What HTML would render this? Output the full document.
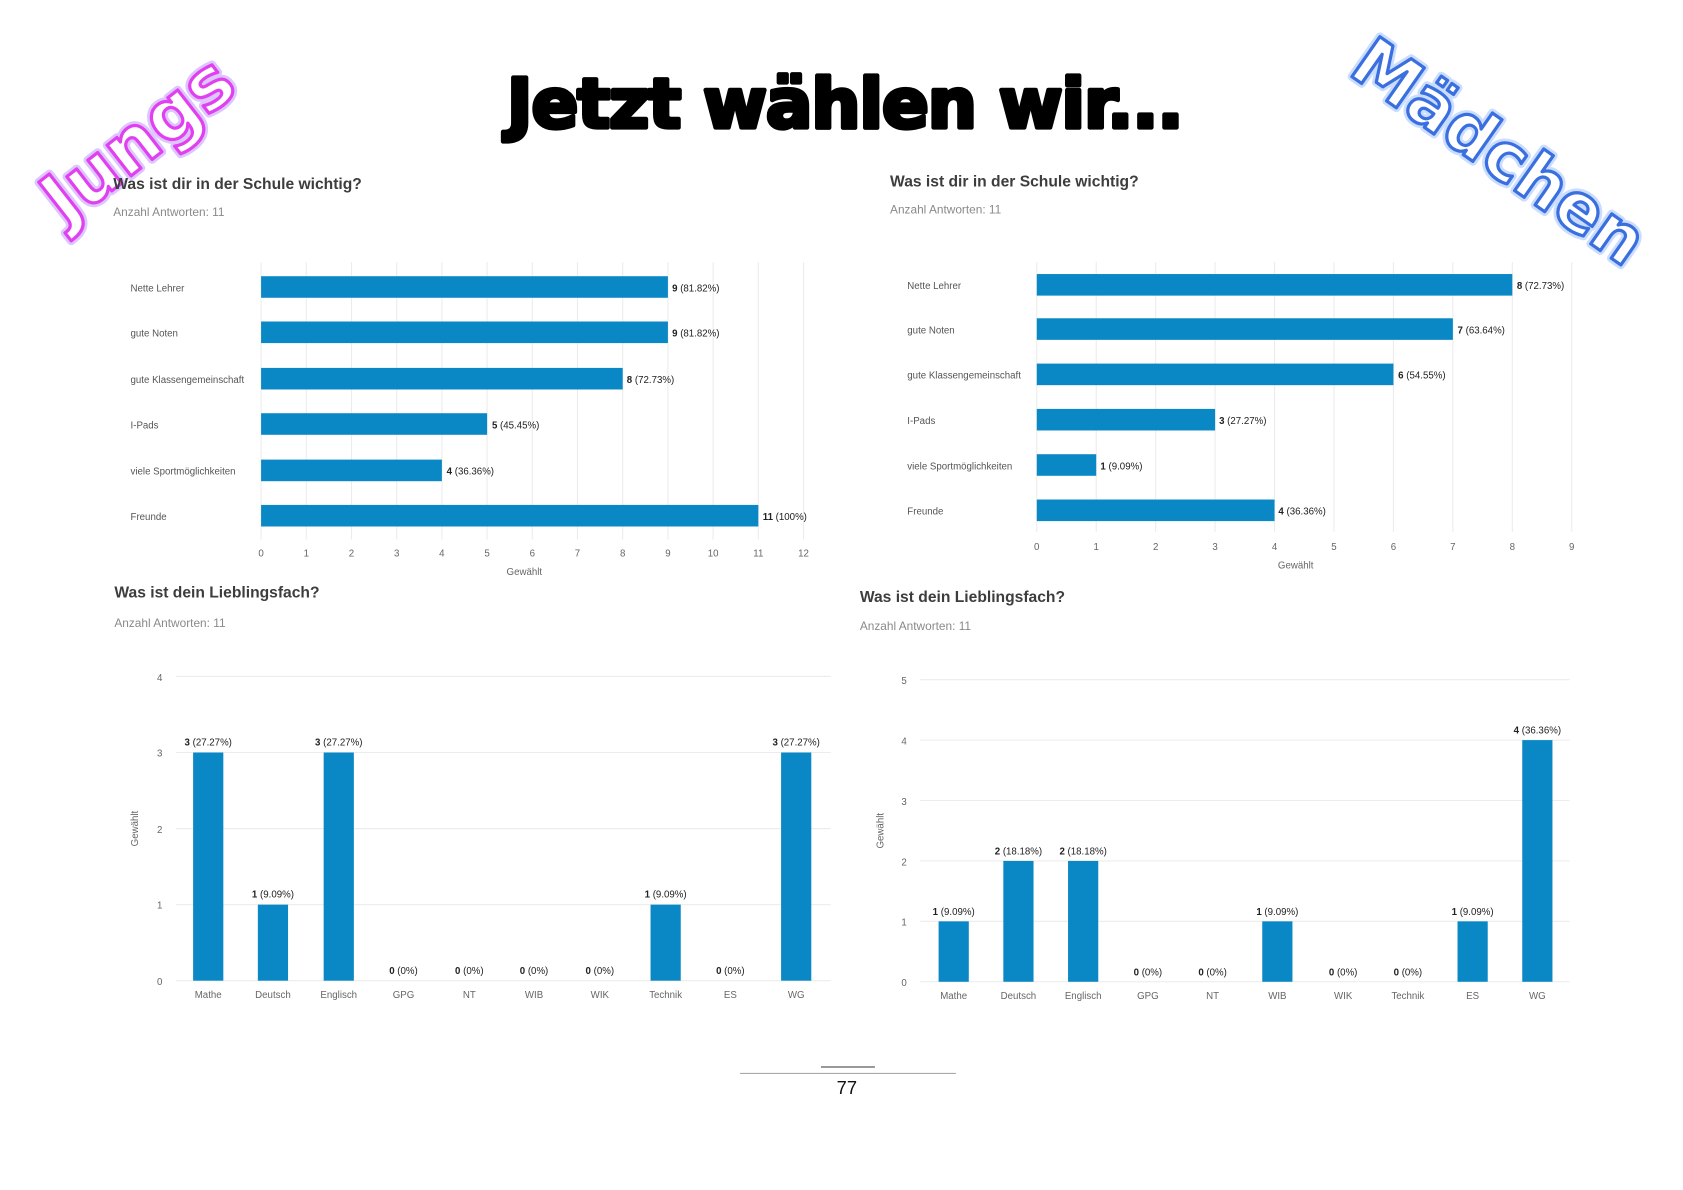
<!DOCTYPE html>
<html><head><meta charset="utf-8"><style>
html,body{margin:0;padding:0;background:#fff;}
svg{display:block;}
text{font-family:"Liberation Sans","DejaVu Sans",sans-serif;}
.t{font-size:14.5px;font-weight:bold;fill:#3d3d3d;}
.s{font-size:11px;fill:#8a8a8a;}
.l{font-size:9px;fill:#555;}
.k{font-size:9px;fill:#666;}
.v{font-size:9px;fill:#222;}
.g{stroke:#ececec;stroke-width:1;}
.b{fill:#0a88c6;}
</style></head><body>
<svg width="1683" height="1190" viewBox="0 0 1560 1103" xmlns="http://www.w3.org/2000/svg">
<rect width="1560" height="1103" fill="#fff"/>
<text x="783" y="118" text-anchor="middle" style="font-family:'DejaVu Sans',sans-serif;font-weight:bold;font-size:64px;letter-spacing:-1px" fill="#000" stroke="#000" stroke-width="4" stroke-linejoin="round">Jetzt wählen wir...</text>
<g transform="translate(128,130) rotate(-38)">
<text x="0" y="22" text-anchor="middle" style="font-family:'DejaVu Sans',sans-serif;font-weight:bold;font-size:66px" fill="#fff" stroke="#c8a0ff" stroke-width="8" stroke-linejoin="round" opacity="0.6">Jungs</text>
<text x="0" y="22" text-anchor="middle" style="font-family:'DejaVu Sans',sans-serif;font-weight:bold;font-size:66px" fill="#fff" stroke="#e040f0" stroke-width="3" stroke-linejoin="round">Jungs</text>
</g>
<g transform="translate(1390,140) rotate(35)">
<text x="0" y="22" text-anchor="middle" style="font-family:'DejaVu Sans',sans-serif;font-weight:bold;font-size:62px" fill="#fff" stroke="#a8c8ff" stroke-width="8" stroke-linejoin="round" opacity="0.6">Mädchen</text>
<text x="0" y="22" text-anchor="middle" style="font-family:'DejaVu Sans',sans-serif;font-weight:bold;font-size:62px" fill="#fff" stroke="#3a6fe0" stroke-width="3" stroke-linejoin="round">Mädchen</text>
</g>

<text class="t" x="105" y="175">Was ist dir in der Schule wichtig?</text>
<text class="s" x="105" y="200">Anzahl Antworten: 11</text>
<g>
<line class="g" x1="242" y1="243" x2="242" y2="500"/><line class="g" x1="283.9" y1="243" x2="283.9" y2="500"/><line class="g" x1="325.8" y1="243" x2="325.8" y2="500"/><line class="g" x1="367.7" y1="243" x2="367.7" y2="500"/><line class="g" x1="409.6" y1="243" x2="409.6" y2="500"/><line class="g" x1="451.5" y1="243" x2="451.5" y2="500"/><line class="g" x1="493.4" y1="243" x2="493.4" y2="500"/><line class="g" x1="535.3" y1="243" x2="535.3" y2="500"/><line class="g" x1="577.2" y1="243" x2="577.2" y2="500"/><line class="g" x1="619.1" y1="243" x2="619.1" y2="500"/><line class="g" x1="661" y1="243" x2="661" y2="500"/><line class="g" x1="702.9" y1="243" x2="702.9" y2="500"/><line class="g" x1="744.8" y1="243" x2="744.8" y2="500"/>
</g>
<g class="k" text-anchor="middle">
<text x="242" y="516">0</text><text x="283.9" y="516">1</text><text x="325.8" y="516">2</text><text x="367.7" y="516">3</text><text x="409.6" y="516">4</text><text x="451.5" y="516">5</text><text x="493.4" y="516">6</text><text x="535.3" y="516">7</text><text x="577.2" y="516">8</text><text x="619.1" y="516">9</text><text x="661" y="516">10</text><text x="702.9" y="516">11</text><text x="744.8" y="516">12</text>
<text x="486" y="533">Gewählt</text>
</g>
<g class="l">
<text x="121" y="270">Nette Lehrer</text><text x="121" y="312">gute Noten</text><text x="121" y="355">gute Klassengemeinschaft</text><text x="121" y="397">I-Pads</text><text x="121" y="440">viele Sportmöglichkeiten</text><text x="121" y="482">Freunde</text>
</g>
<rect class="b" x="242" y="256" width="377.1" height="20"/>
<rect class="b" x="242" y="298" width="377.1" height="20"/>
<rect class="b" x="242" y="341" width="335.2" height="20"/>
<rect class="b" x="242" y="383" width="209.5" height="20"/>
<rect class="b" x="242" y="426" width="167.6" height="20"/>
<rect class="b" x="242" y="468" width="460.9" height="20"/>
<g class="v">
<text x="623" y="270"><tspan font-weight="bold">9</tspan> (81.82%)</text>
<text x="623" y="312"><tspan font-weight="bold">9</tspan> (81.82%)</text>
<text x="581" y="355"><tspan font-weight="bold">8</tspan> (72.73%)</text>
<text x="456" y="397"><tspan font-weight="bold">5</tspan> (45.45%)</text>
<text x="414" y="440"><tspan font-weight="bold">4</tspan> (36.36%)</text>
<text x="707" y="482"><tspan font-weight="bold">11</tspan> (100%)</text>
</g>

<text class="t" x="825" y="173">Was ist dir in der Schule wichtig?</text>
<text class="s" x="825" y="198">Anzahl Antworten: 11</text>
<g>
<line class="g" x1="961" y1="243" x2="961" y2="493"/><line class="g" x1="1016.1" y1="243" x2="1016.1" y2="493"/><line class="g" x1="1071.2" y1="243" x2="1071.2" y2="493"/><line class="g" x1="1126.3" y1="243" x2="1126.3" y2="493"/><line class="g" x1="1181.4" y1="243" x2="1181.4" y2="493"/><line class="g" x1="1236.5" y1="243" x2="1236.5" y2="493"/><line class="g" x1="1291.6" y1="243" x2="1291.6" y2="493"/><line class="g" x1="1346.7" y1="243" x2="1346.7" y2="493"/><line class="g" x1="1401.8" y1="243" x2="1401.8" y2="493"/><line class="g" x1="1456.9" y1="243" x2="1456.9" y2="493"/>
</g>
<g class="k" text-anchor="middle">
<text x="961" y="510">0</text><text x="1016.1" y="510">1</text><text x="1071.2" y="510">2</text><text x="1126.3" y="510">3</text><text x="1181.4" y="510">4</text><text x="1236.5" y="510">5</text><text x="1291.6" y="510">6</text><text x="1346.7" y="510">7</text><text x="1401.8" y="510">8</text><text x="1456.9" y="510">9</text>
<text x="1201" y="527">Gewählt</text>
</g>
<g class="l">
<text x="841" y="268">Nette Lehrer</text><text x="841" y="309">gute Noten</text><text x="841" y="351">gute Klassengemeinschaft</text><text x="841" y="393">I-Pads</text><text x="841" y="435">viele Sportmöglichkeiten</text><text x="841" y="477">Freunde</text>
</g>
<rect class="b" x="961" y="254" width="440.8" height="20"/>
<rect class="b" x="961" y="295" width="385.7" height="20"/>
<rect class="b" x="961" y="337" width="330.6" height="20"/>
<rect class="b" x="961" y="379" width="165.3" height="20"/>
<rect class="b" x="961" y="421" width="55.1" height="20"/>
<rect class="b" x="961" y="463" width="220.4" height="20"/>
<g class="v">
<text x="1406" y="268"><tspan font-weight="bold">8</tspan> (72.73%)</text>
<text x="1351" y="309"><tspan font-weight="bold">7</tspan> (63.64%)</text>
<text x="1296" y="351"><tspan font-weight="bold">6</tspan> (54.55%)</text>
<text x="1130" y="393"><tspan font-weight="bold">3</tspan> (27.27%)</text>
<text x="1020" y="435"><tspan font-weight="bold">1</tspan> (9.09%)</text>
<text x="1185" y="477"><tspan font-weight="bold">4</tspan> (36.36%)</text>
</g>

<text class="t" x="106" y="554">Was ist dein Lieblingsfach?</text>
<text class="s" x="106" y="581">Anzahl Antworten: 11</text>
<g>
<line class="g" x1="163" y1="627" x2="770" y2="627" stroke-width="1.5"/><line class="g" x1="163" y1="697.5" x2="770" y2="697.5"/><line class="g" x1="163" y1="768" x2="770" y2="768"/><line class="g" x1="163" y1="838.5" x2="770" y2="838.5"/><line class="g" x1="163" y1="909" x2="770" y2="909"/>
</g>
<g class="k" text-anchor="middle">
<text x="148" y="631">4</text><text x="148" y="701">3</text><text x="148" y="772">2</text><text x="148" y="842">1</text><text x="148" y="913">0</text>
<text x="193" y="925">Mathe</text><text x="253" y="925">Deutsch</text><text x="314" y="925">Englisch</text><text x="374" y="925">GPG</text><text x="435" y="925">NT</text><text x="495" y="925">WIB</text><text x="556" y="925">WIK</text><text x="617" y="925">Technik</text><text x="677" y="925">ES</text><text x="738" y="925">WG</text>
<text transform="translate(128,768) rotate(-90)" text-anchor="middle">Gewählt</text>
</g>
<rect class="b" x="179" y="697.5" width="28" height="211.5"/>
<rect class="b" x="239" y="838.5" width="28" height="70.5"/>
<rect class="b" x="300" y="697.5" width="28" height="211.5"/>
<rect class="b" x="603" y="838.5" width="28" height="70.5"/>
<rect class="b" x="724" y="697.5" width="28" height="211.5"/>
<g class="v" text-anchor="middle">
<text x="193" y="691"><tspan font-weight="bold">3</tspan> (27.27%)</text>
<text x="253" y="832"><tspan font-weight="bold">1</tspan> (9.09%)</text>
<text x="314" y="691"><tspan font-weight="bold">3</tspan> (27.27%)</text>
<text x="374" y="903"><tspan font-weight="bold">0</tspan> (0%)</text>
<text x="435" y="903"><tspan font-weight="bold">0</tspan> (0%)</text>
<text x="495" y="903"><tspan font-weight="bold">0</tspan> (0%)</text>
<text x="556" y="903"><tspan font-weight="bold">0</tspan> (0%)</text>
<text x="617" y="832"><tspan font-weight="bold">1</tspan> (9.09%)</text>
<text x="677" y="903"><tspan font-weight="bold">0</tspan> (0%)</text>
<text x="738" y="691"><tspan font-weight="bold">3</tspan> (27.27%)</text>
</g>

<text class="t" x="797" y="558">Was ist dein Lieblingsfach?</text>
<text class="s" x="797" y="584">Anzahl Antworten: 11</text>
<g>
<line class="g" x1="853" y1="630" x2="1455" y2="630" stroke-width="1.5"/><line class="g" x1="853" y1="686" x2="1455" y2="686"/><line class="g" x1="853" y1="742" x2="1455" y2="742"/><line class="g" x1="853" y1="798" x2="1455" y2="798"/><line class="g" x1="853" y1="854" x2="1455" y2="854"/><line class="g" x1="853" y1="910" x2="1455" y2="910"/>
</g>
<g class="k" text-anchor="middle">
<text x="838" y="634">5</text><text x="838" y="690">4</text><text x="838" y="746">3</text><text x="838" y="802">2</text><text x="838" y="858">1</text><text x="838" y="914">0</text>
<text x="884" y="926">Mathe</text><text x="944" y="926">Deutsch</text><text x="1004" y="926">Englisch</text><text x="1064" y="926">GPG</text><text x="1124" y="926">NT</text><text x="1184" y="926">WIB</text><text x="1245" y="926">WIK</text><text x="1305" y="926">Technik</text><text x="1365" y="926">ES</text><text x="1425" y="926">WG</text>
<text transform="translate(819,770) rotate(-90)" text-anchor="middle">Gewählt</text>
</g>
<rect class="b" x="870" y="854" width="28" height="56"/>
<rect class="b" x="930" y="798" width="28" height="112"/>
<rect class="b" x="990" y="798" width="28" height="112"/>
<rect class="b" x="1170" y="854" width="28" height="56"/>
<rect class="b" x="1351" y="854" width="28" height="56"/>
<rect class="b" x="1411" y="686" width="28" height="224"/>
<g class="v" text-anchor="middle">
<text x="884" y="848"><tspan font-weight="bold">1</tspan> (9.09%)</text>
<text x="944" y="792"><tspan font-weight="bold">2</tspan> (18.18%)</text>
<text x="1004" y="792"><tspan font-weight="bold">2</tspan> (18.18%)</text>
<text x="1064" y="904"><tspan font-weight="bold">0</tspan> (0%)</text>
<text x="1124" y="904"><tspan font-weight="bold">0</tspan> (0%)</text>
<text x="1184" y="848"><tspan font-weight="bold">1</tspan> (9.09%)</text>
<text x="1245" y="904"><tspan font-weight="bold">0</tspan> (0%)</text>
<text x="1305" y="904"><tspan font-weight="bold">0</tspan> (0%)</text>
<text x="1365" y="848"><tspan font-weight="bold">1</tspan> (9.09%)</text>
<text x="1425" y="680"><tspan font-weight="bold">4</tspan> (36.36%)</text>
</g>

<line x1="761" y1="989" x2="811" y2="989" stroke="#333" stroke-width="1"/>
<line x1="686" y1="995" x2="886" y2="995" stroke="#aaa" stroke-width="1"/>
<text x="785" y="1014" text-anchor="middle" style="font-size:17px" fill="#111">77</text>
</svg>
</body></html>
